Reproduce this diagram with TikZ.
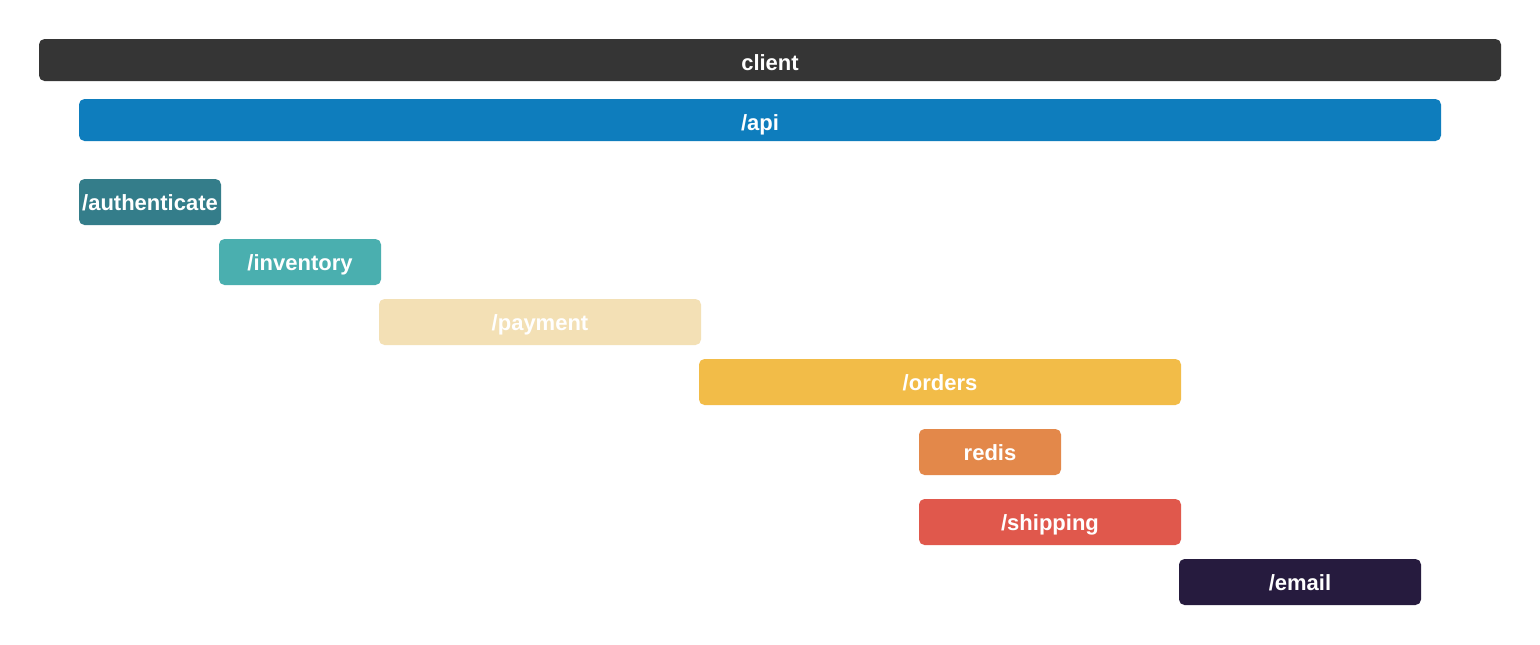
\documentclass[tikz,border=0pt]{standalone}
\usepackage{fontspec}
\setmainfont{Liberation Sans}
\definecolor{cclient}{HTML}{353535}
\definecolor{capi}{HTML}{0E7DBD}
\definecolor{cauth}{HTML}{347D8A}
\definecolor{cinv}{HTML}{4AAFAF}
\definecolor{cpay}{HTML}{F3E0B5}
\definecolor{cord}{HTML}{F2BC48}
\definecolor{credis}{HTML}{E3884A}
\definecolor{cship}{HTML}{E0584C}
\definecolor{cemail}{HTML}{261B3E}
\begin{document}
\begin{tikzpicture}[x=1pt,y=-1pt,
  bar/.style={rounded corners=5.5pt},
  lbl/.style={text=white,font=\fontsize{22}{26}\selectfont\bfseries,inner sep=0pt,anchor=base}]
\useasboundingbox (0,0) rectangle (1540,645);
\fill[white] (0,0) rectangle (1540,645);
\fill[cclient,bar] (39,39) rectangle (1501,81);
\node[lbl] (client) at (770,70) {client};
\fill[capi,bar] (79,99) rectangle (1441,141);
\node[lbl] (api) at (760,130) {/api};
\fill[cauth,bar] (79,179) rectangle (221,225);
\node[lbl] (auth) at (150,210) {/authenticate};
\fill[cinv,bar] (219,239) rectangle (381,285);
\node[lbl] (inv) at (300,270) {/inventory};
\fill[cpay,bar] (379,299) rectangle (701,345);
\node[lbl] (pay) at (540,330) {/payment};
\fill[cord,bar] (699,359) rectangle (1181,405);
\node[lbl] (ord) at (940,390) {/orders};
\fill[credis,bar] (919,429) rectangle (1061,475);
\node[lbl] (redis) at (990,460) {redis};
\fill[cship,bar] (919,499) rectangle (1181,545);
\node[lbl] (ship) at (1050,530) {/shipping};
\fill[cemail,bar] (1179,559) rectangle (1421,605);
\node[lbl] (email) at (1300,590) {/email};
\end{tikzpicture}
\end{document}
